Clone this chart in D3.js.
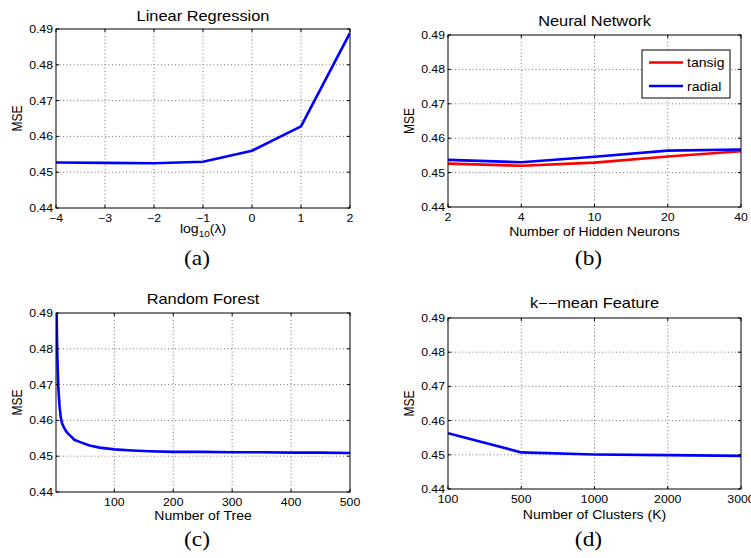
<!DOCTYPE html>
<html>
<head>
<meta charset="utf-8">
<title>MSE panels</title>
<script src="https://d3js.org/d3.v7.min.js"></script>
<style>
  body { margin: 0; background: #fff; }
  text { font-family: "Liberation Sans", Arial, sans-serif; fill: #000; }
</style>
</head>
<body>
<script>
// data
const mseTicks = [0.44, 0.45, 0.46, 0.47, 0.48, 0.49];

const lrLambda = [-4, -3, -2, -1, 0, 1, 2];
const lrMSE = [0.4527, 0.4526, 0.4525, 0.4529, 0.4560, 0.4628, 0.4889];

const nnNeurons = ["2", "4", "10", "20", "40"];
const nnTansig = [0.4526, 0.4520, 0.4529, 0.4547, 0.4562];
const nnRadial = [0.4537, 0.4530, 0.4546, 0.4564, 0.4567];

const rfTrees = [2, 3, 4, 5, 7, 9, 11, 14, 18, 22, 26, 32, 41, 58, 75, 100, 130, 160, 200, 250, 300, 350, 400, 450, 500];
const rfMSE = [0.4900, 0.4800, 0.4740, 0.4690, 0.4640, 0.4610, 0.4593, 0.4582, 0.4570, 0.4562, 0.4556, 0.4546, 0.4540,
               0.4530, 0.4524, 0.4519, 0.4516, 0.4514, 0.4512, 0.4512, 0.4511, 0.4511, 0.4510, 0.4510, 0.4509];
const rfTicks = [100, 200, 300, 400, 500];

const kmClusters = ["100", "500", "1000", "2000", "3000"];
const kmMSE = [0.4563, 0.4507, 0.4501, 0.4499, 0.4497];

const SX = 1.17; // the figure is a little stretched sideways

const svg = d3.select("body").append("svg")
    .attr("width", 751)
    .attr("height", 558);

// text helper, stretched like the source picture
function label(g, x, y, str, size, anchor, rot) {
    const t = g.append("g")
        .attr("transform", `translate(${x},${y}) scale(${SX},1)` + (rot ? ` rotate(${rot})` : ""))
        .append("text")
        .attr("font-size", size)
        .attr("text-anchor", anchor || "middle")
        .text(str);
    return t;
}

function panel(p) {
    const g = svg.append("g");
    const x = p.x, y = d3.scaleLinear().domain([0.44, 0.49]).range([p.bottom, p.top]);
    const L = p.left, R = p.right, T = p.top, B = p.bottom;

    // dotted grid
    p.xTicks.forEach(v => {
        const px = x(v);
        if (px > L + 1 && px < R - 1)
            g.append("line").attr("x1", px).attr("x2", px).attr("y1", T).attr("y2", B)
                .attr("stroke", "#777").attr("stroke-dasharray", "1,2.5");
    });
    mseTicks.forEach(v => {
        const py = y(v);
        if (py > T + 1 && py < B - 1)
            g.append("line").attr("x1", L).attr("x2", R).attr("y1", py).attr("y2", py)
                .attr("stroke", "#777").attr("stroke-dasharray", "1,2.5");
    });

    // lines
    const clipId = "clip" + p.id;
    g.append("clipPath").attr("id", clipId).append("rect")
        .attr("x", L).attr("y", T).attr("width", R - L).attr("height", B - T);
    p.series.forEach(s => {
        const line = d3.line().x((d, i) => x(s.xs[i])).y(d => y(d));
        g.append("path").datum(s.ys)
            .attr("d", line)
            .attr("fill", "none")
            .attr("stroke", s.color)
            .attr("stroke-width", 2.6)
            .attr("stroke-linejoin", "round")
            .attr("clip-path", `url(#${clipId})`);
    });

    // box and inward ticks
    g.append("rect").attr("x", L).attr("y", T).attr("width", R - L).attr("height", B - T)
        .attr("fill", "none").attr("stroke", "#000").attr("stroke-width", 1);
    p.xTicks.forEach(v => {
        const px = x(v);
        g.append("line").attr("x1", px).attr("x2", px).attr("y1", B).attr("y2", B - 3).attr("stroke", "#000");
        g.append("line").attr("x1", px).attr("x2", px).attr("y1", T).attr("y2", T + 3).attr("stroke", "#000");
        label(g, px, B + 14, p.xFmt(v), 10.5);
    });
    mseTicks.forEach(v => {
        const py = y(v);
        g.append("line").attr("x1", L).attr("x2", L + 3).attr("y1", py).attr("y2", py).attr("stroke", "#000");
        g.append("line").attr("x1", R).attr("x2", R - 3).attr("y1", py).attr("y2", py).attr("stroke", "#000");
        label(g, L - 3, py + 4, v.toFixed(2), 10.5, "end");
    });

    // titles and labels
    const cx = (L + R) / 2;
    label(g, cx, p.titleY, p.title, 14);
    const xl = label(g, cx, p.xlabelY, "", 12);
    p.xlabel(xl);
    label(g, L - 34, (T + B) / 2, "MSE", 12, "middle", -90);
    label(g, cx - 6, p.capY, p.cap, 20)
        .style("font-family", "'Liberation Serif', 'Times New Roman', serif");
    return g;
}

// (a) linear regression
panel({
    id: "a", left: 56, right: 350, top: 29, bottom: 208,
    x: d3.scaleLinear().domain([-4, 2]).range([56, 350]),
    xTicks: lrLambda, xFmt: v => v < 0 ? "\u2212" + Math.abs(v) : String(v),
    series: [{ xs: lrLambda, ys: lrMSE, color: "#0000ff" }],
    title: "Linear Regression", titleY: 21,
    xlabelY: 233,
    xlabel: t => {
        t.append("tspan").text("log");
        t.append("tspan").attr("font-size", 8.5).attr("dy", 4).text("10");
        t.append("tspan").attr("dy", -4).text("(\u03bb)");
    },
    cap: "(a)", capY: 265
});

// (b) neural network
const nnPanel = panel({
    id: "b", left: 448, right: 741, top: 35, bottom: 207,
    x: d3.scalePoint().domain(nnNeurons).range([448, 741]).padding(0),
    xTicks: nnNeurons, xFmt: v => v,
    series: [
        { xs: nnNeurons, ys: nnTansig, color: "#ff0000" },
        { xs: nnNeurons, ys: nnRadial, color: "#0000ff" }
    ],
    title: "Neural Network", titleY: 26,
    xlabelY: 236,
    xlabel: t => t.text("Number of Hidden Neurons"),
    cap: "(b)", capY: 265
});

// legend for (b)
const legend = nnPanel.append("g");
legend.append("rect").attr("x", 642).attr("y", 50).attr("width", 88).attr("height", 48)
    .attr("fill", "#fff").attr("stroke", "#000");
[["tansig", "#ff0000", 62.5], ["radial", "#0000ff", 86]].forEach(([name, col, ly]) => {
    legend.append("line").attr("x1", 649).attr("x2", 683).attr("y1", ly).attr("y2", ly)
        .attr("stroke", col).attr("stroke-width", 2.6);
    label(legend, 687, ly + 4.5, name, 12, "start");
});

// (c) random forest
panel({
    id: "c", left: 56, right: 350, top: 313, bottom: 492,
    x: d3.scaleLinear().domain([1, 500]).range([56, 350]),
    xTicks: rfTicks, xFmt: v => String(v),
    series: [{ xs: rfTrees, ys: rfMSE, color: "#0000ff" }],
    title: "Random Forest", titleY: 304,
    xlabelY: 520,
    xlabel: t => t.text("Number of Tree"),
    cap: "(c)", capY: 546
});

// (d) k-means features
panel({
    id: "d", left: 448, right: 741, top: 318, bottom: 489,
    x: d3.scalePoint().domain(kmClusters).range([448, 741]).padding(0),
    xTicks: kmClusters, xFmt: v => v,
    series: [{ xs: kmClusters, ys: kmMSE, color: "#0000ff" }],
    title: "k\u2212\u2212mean Feature", titleY: 308,
    xlabelY: 519,
    xlabel: t => t.text("Number of Clusters (K)"),
    cap: "(d)", capY: 546
});
</script>
</body>
</html>
